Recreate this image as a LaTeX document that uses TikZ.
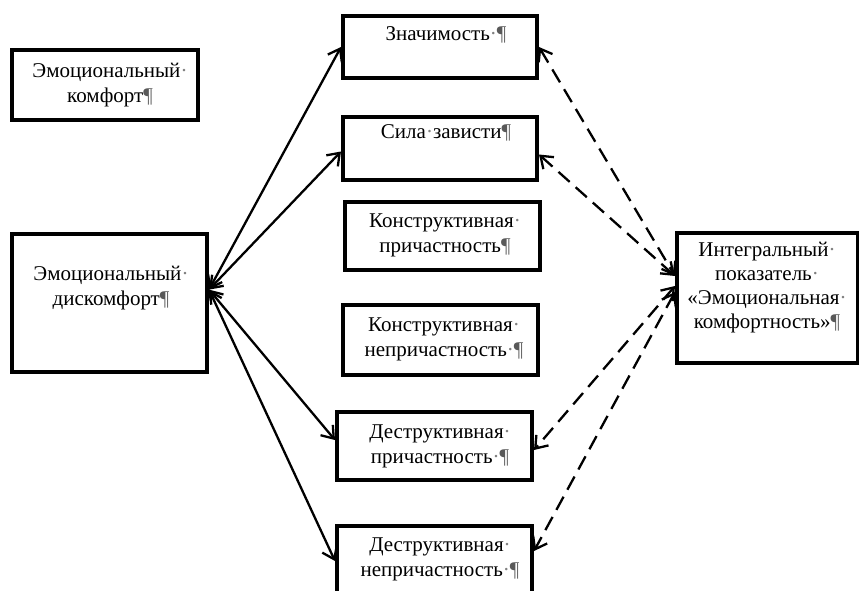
\documentclass[tikz,border=0pt]{standalone}
\usepackage{fontspec}
\setmainfont{Liberation Serif}
\usetikzlibrary{arrows.meta,calc}
\newcommand\spc{{\color{black!50}·}}
\newcommand\pil{{\color{black!65}¶}}
\begin{document}
\begin{tikzpicture}[x=1pt,y=-1pt,
  box/.style={draw, line width=4pt, rectangle, inner sep=0pt},
  txt/.style={align=center, inner sep=0pt, font=\fontsize{21}{25}\selectfont},
  conn/.style={line width=2.3pt, {Straight Barb[length=11pt,width=16pt]}-{Straight Barb[length=11pt,width=16pt]}},
  dconn/.style={conn, dash pattern=on 15pt off 8pt}]
\useasboundingbox[fill=white] (0,0) rectangle (859,591);
% boxes
\node[box, minimum width=186pt, minimum height=70pt] (komf) at (105,85) {};
\node[box, minimum width=195pt, minimum height=138pt] (dis) at (109.5,303) {};
\node[box, minimum width=194pt, minimum height=62pt] (zn) at (440,47) {};
\node[box, minimum width=194pt, minimum height=63pt] (sz) at (440,148.5) {};
\node[box, minimum width=195pt, minimum height=68pt] (kp) at (442.5,236) {};
\node[box, minimum width=195pt, minimum height=70pt] (kn) at (440.5,340) {};
\node[box, minimum width=195pt, minimum height=68pt] (dp) at (434.5,446) {};
\node[box, minimum width=195pt, minimum height=70pt] (dn) at (434.5,561) {};
\node[box, minimum width=181pt, minimum height=130pt] (int) at (767.5,298) {};
% texts
\node[txt] (tkomf) at (110,85) {Эмоциональный\spc\\комфорт\pil};
\node[txt] (tdis) at (111,288) {Эмоциональный\spc\\дискомфорт\pil};
\node[txt] (tzn) at (446,35) {Значимость\spc\pil};
\node[txt] (tsz) at (446,133) {Сила\spc зависти\pil};
\node[txt] (tkp) at (445,235) {Конструктивная\spc\\причастность\pil};
\node[txt] (tkn) at (444,339) {Конструктивная\spc\\непричастность\spc\pil};
\node[txt] (tdp) at (440,446) {Деструктивная\spc\\причастность\spc\pil};
\node[txt] (tdn) at (440,559) {Деструктивная\spc\\непричастность\spc\pil};
\node[txt, font=\fontsize{21}{24}\selectfont] (tint) at (767,288) {Интегральный\spc\\показатель\spc\\«Эмоциональная\spc\\комфортность»\pil};
% connectors
\coordinate (dE) at ($(dis.north east)!0.406!(dis.south east)$);
\draw[conn] (dE) -- (zn.west);
\draw[conn] (dE) -- ($(sz.west)+(0,3)$);
\draw[conn] (dE) -- ($(dp.west)+(0,-6)$);
\draw[conn] (dE) -- (dn.west);
\draw[dconn] (zn.east) -- ($(int.west)+(0,-22)$);
\draw[dconn] ($(sz.east)+(0,6)$) -- ($(int.west)+(0,-22)$);
\draw[dconn] ($(int.west)+(0,-12)$) -- ($(dp.east)+(0,4)$);
\draw[dconn] ($(int.west)+(0,-6)$) -- ($(dn.east)+(0,-10)$);
\end{tikzpicture}
\end{document}
